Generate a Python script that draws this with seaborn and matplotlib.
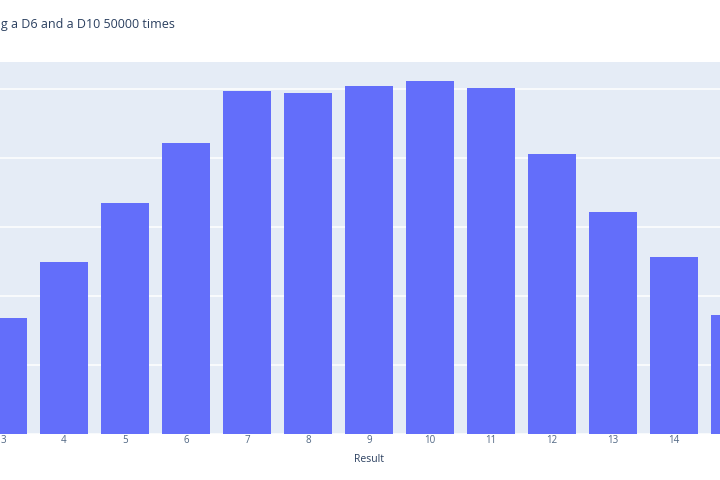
import matplotlib
matplotlib.use("Agg")
import matplotlib.pyplot as plt
import seaborn as sns
import pandas as pd

# Data read from the (cropped) reference chart
results = [3, 4, 5, 6, 7, 8, 9, 10, 11, 12, 13, 14, 15]
frequencies = [1686, 2497, 3343, 4217, 4976, 4942, 5048, 5120, 5019, 4062, 3222, 2561, 1725]
y_ticks = [0, 1000, 2000, 3000, 4000, 5000]

title_text = "Results of rolling a D6 and a D10 50000 times"
x_title = "Result"

df = pd.DataFrame({"Result": [str(r) for r in results], "Frequency": frequencies})

sns.set_theme(style="darkgrid")
plt.rcParams["font.family"] = ["Open Sans", "DejaVu Sans"]

BAR = "#636EFA"
BG = "#E5ECF6"
TXT = "#2a3f5f"

fig = plt.figure(figsize=(7.2, 4.8), dpi=100)
fig.patch.set_facecolor("white")
# plot area extends past the figure edges (reference is a crop of a wider chart)
ax = fig.add_axes([-88.5 / 720, 46 / 480, 915 / 720, 372 / 480])
ax.set_facecolor(BG)

sns.barplot(data=df, x="Result", y="Frequency", color=BAR, saturation=1,
            width=0.8, ax=ax, linewidth=0)

# category axis spans results 2..16 (first and last fall outside the crop)
ax.set_xlim(-1.5, len(results) + 0.5)
ax.set_ylim(0, 5391)
ax.set_yticks(y_ticks)
ax.set_yticklabels([])
ax.tick_params(axis="y", length=0)
ax.grid(axis="y", color="white", linewidth=1.1)
ax.grid(axis="x", visible=False)
ax.set_axisbelow(True)
for s in ax.spines.values():
    s.set_visible(False)

ax.tick_params(axis="x", length=0, pad=1, labelsize=7, labelcolor="#506784")
ax.set_xlabel(x_title, fontsize=7.5, color=TXT, labelpad=5.5)
ax.set_ylabel("")

fig.text(175 / 720, 1 - 24.5 / 480, title_text, ha="right", va="center",
         fontsize=9, color=TXT)

fig.savefig("out.png", dpi=100, facecolor="white")
